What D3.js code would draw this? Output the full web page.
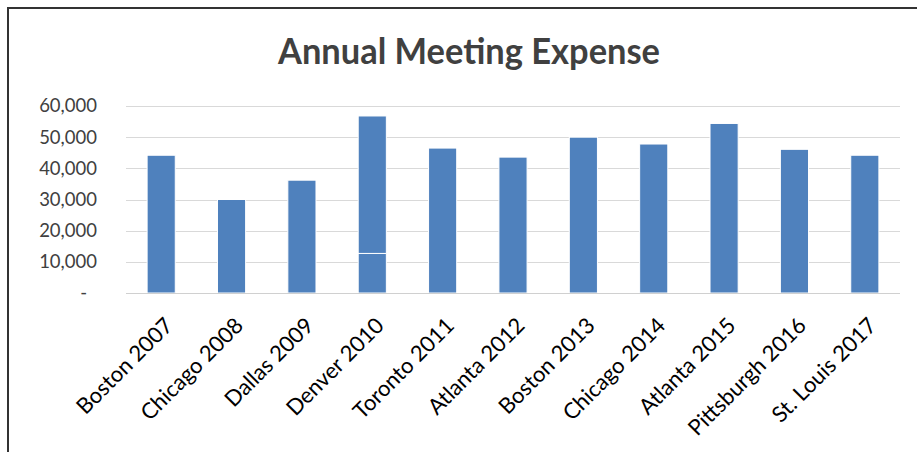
<!DOCTYPE html>
<html>
<head>
<meta charset="utf-8">
<script src="https://cdn.jsdelivr.net/npm/d3@7"></script>
<style>
  html, body { margin: 0; padding: 0; background: #fff; }
  svg { display: block; }
  text { font-family: Lato, "Open Sans", sans-serif; }
</style>
</head>
<body>
<svg id="chart" width="917" height="452"></svg>
<script>
const title = "Annual Meeting Expense";
const categories = ["Boston 2007", "Chicago 2008", "Dallas 2009", "Denver 2010", "Toronto 2011",
  "Atlanta 2012", "Boston 2013", "Chicago 2014", "Atlanta 2015", "Pittsburgh 2016", "St. Louis 2017"];
const seriesA = [44200, 30000, 36200, 12700, 46500, 43600, 50000, 47800, 54400, 46100, 44200];
const seriesB = [0, 0, 0, 44100, 0, 0, 0, 0, 0, 0, 0];
const yTicks = [0, 10000, 20000, 30000, 40000, 50000, 60000];

const W = 917, H = 452;
const plot = { left: 126, right: 900, top: 106, bottom: 293 };
const svg = d3.select("#chart");

// Outer chart border (top and left visible)
svg.append("path")
  .attr("d", `M8,${H} L8,8 L${W},8`)
  .attr("fill", "none").attr("stroke", "#333").attr("stroke-width", 2);

const x = d3.scaleBand().domain(categories).range([plot.left, plot.right]).paddingInner(0.6).paddingOuter(0.3);
const y = d3.scaleLinear().domain([0, 60000]).range([plot.bottom, plot.top]);

// gridlines
svg.append("g").selectAll("line").data(yTicks.slice(1)).join("line")
  .attr("x1", plot.left).attr("x2", plot.right)
  .attr("y1", d => Math.round(y(d)) + 0.5).attr("y2", d => Math.round(y(d)) + 0.5)
  .attr("stroke", "#d9d9d9").attr("stroke-width", 1);

// y axis labels
const fmt = d => d === 0 ? "-" : d3.format(",")(d);
svg.append("g").selectAll("text").data(yTicks).join("text")
  .attr("x", d => d === 0 ? 87 : 97)
  .attr("y", d => y(d))
  .attr("dy", "0.35em")
  .attr("text-anchor", "end")
  .attr("font-size", 18.5)
  .attr("fill", "#404040")
  .text(fmt);

// bars
const stacked = categories.map((c, i) => ({ c, a: seriesA[i], b: seriesB[i] }));
const g = svg.append("g");
g.selectAll("rect.a").data(stacked).join("rect").attr("class", "a")
  .attr("x", d => x(d.c)).attr("width", x.bandwidth())
  .attr("y", d => y(d.a)).attr("height", d => y(0) - y(d.a))
  .attr("fill", "#4f81bd").attr("stroke", "#fff").attr("stroke-width", 1);
g.selectAll("rect.b").data(stacked.filter(d => d.b > 0)).join("rect").attr("class", "b")
  .attr("x", d => x(d.c)).attr("width", x.bandwidth())
  .attr("y", d => y(d.a + d.b)).attr("height", d => y(d.a) - y(d.a + d.b))
  .attr("fill", "#4f81bd").attr("stroke", "#fff").attr("stroke-width", 1);

// baseline
svg.append("line")
  .attr("x1", plot.left).attr("x2", plot.right)
  .attr("y1", Math.round(y(0)) + 0.5).attr("y2", Math.round(y(0)) + 0.5)
  .attr("stroke", "#d0d0d0").attr("stroke-width", 1);

// category labels
svg.append("g").selectAll("text").data(categories).join("text")
  .attr("transform", d => `translate(${x(d) + x.bandwidth() / 2 + 13},327) rotate(-45)`)
  .attr("text-anchor", "end")
  .attr("font-size", 22)
  .attr("fill", "#000")
  .text(d => d);

// title
svg.append("text")
  .attr("x", 469).attr("y", 64)
  .attr("text-anchor", "middle")
  .attr("font-size", 36).attr("font-weight", "bold")
  .attr("textLength", 382).attr("lengthAdjust", "spacingAndGlyphs")
  .attr("fill", "#404040")
  .text(title);
</script>
</body>
</html>
